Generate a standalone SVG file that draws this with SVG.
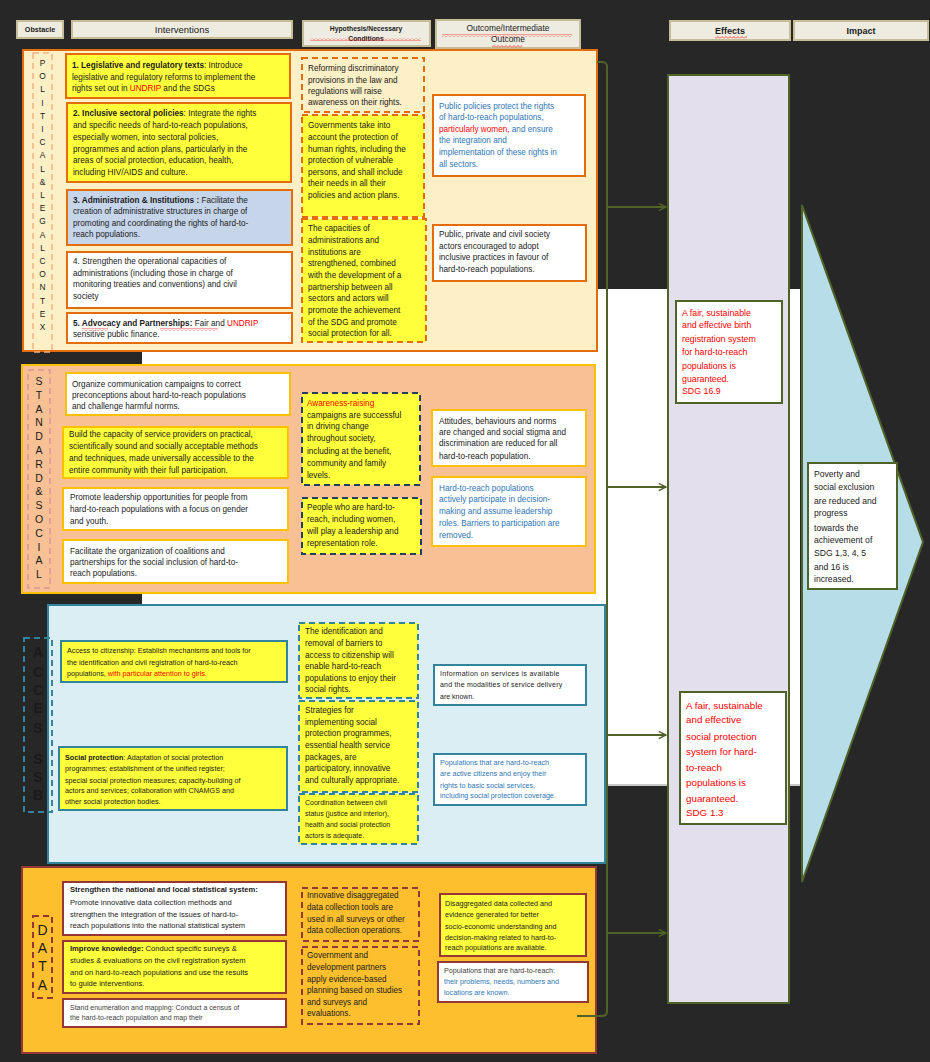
<svg xmlns="http://www.w3.org/2000/svg" width="930" height="1062" viewBox="0 0 930 1062">
<defs>
<style>
text{font-family:"Liberation Sans",Arial,sans-serif;fill:#1a1a1a}
.f8{font-size:8.2px}
.f79{font-size:7.8px}
.f77{font-size:7.6px}
.f73{font-size:7.2px}
.f7{font-size:7px}
.b{font-weight:bold}
.r{fill:#ff0000}
.bl{fill:#2e75b6}
.gr{fill:#404040}
.hd{fill:#eeece1;stroke:#c4bd97;stroke-width:2}
.ht{font-size:9px;text-anchor:middle}
.po{stroke:#e46c0a;stroke-width:2}
.go{stroke:#ffc000;stroke-width:2}
.te{stroke:#31849b;stroke-width:2}
.dr{stroke:#953735;stroke-width:2}
.yl{fill:#ffff3b}
.wh{fill:#ffffff}
.lb{fill:#c6d5ea}
.nf{fill:none}
.ds{stroke-dasharray:6 4}
.gn{stroke:#4f6228;stroke-width:2}
.conn{fill:none;stroke:#4f6228;stroke-width:2}
.sq{fill:url(#sq)}
.vl{text-anchor:middle}
</style>
<marker id="ah" viewBox="0 0 10 10" refX="9" refY="5" markerWidth="9" markerHeight="9" orient="auto" markerUnits="userSpaceOnUse">
<path d="M1,1 L9,5 L1,9" fill="none" stroke="#4f6228" stroke-width="1.6"/>
</marker>
<pattern id="sq" width="4" height="3" patternUnits="userSpaceOnUse"><path d="M0,2.5 L2,0.5 L4,2.5" fill="none" stroke="#ff2020" stroke-width="0.8"/></pattern>
</defs>

<rect x="0" y="0" width="930" height="1062" fill="#272727"/>
<rect id="whiteband" x="142" y="289" width="658" height="495" fill="#ffffff"/>
<line x1="142" y1="785" x2="800" y2="785" stroke="#c8c8c8" stroke-width="2"/>

<!-- Headers -->
<g id="hdr-obstacle"><rect class="hd" x="17" y="21" width="46" height="17"/><text class="ht b" x="40" y="32" style="font-size:7.2px">Obstacle</text></g>
<g id="hdr-interventions"><rect class="hd" x="72" y="21" width="220" height="17"/><text class="ht" x="182" y="33" style="font-size:9.5px">Interventions</text></g>
<g id="hdr-hypothesis"><rect class="hd" x="303" y="21" width="127" height="25"/><text class="ht b" x="366" y="31" style="font-size:6.8px">Hypothesis/Necessary</text><text class="ht b" x="366" y="41" style="font-size:6.8px">Conditions</text><rect class="sq" x="310" y="38" width="111" height="3"/></g>
<g id="hdr-outcome"><rect class="hd" x="436" y="20" width="144" height="28"/><text class="ht" x="508" y="30.5" style="font-size:8.4px">Outcome/Intermediate</text><text class="ht" x="508" y="42" style="font-size:8.4px">Outcome</text><rect class="sq" x="442" y="34" width="130" height="3"/><rect class="sq" x="492" y="45" width="30" height="3"/></g>
<g id="hdr-effects"><rect class="hd" x="670" y="21" width="120" height="19"/><text class="ht b" x="730" y="33.5">Effects</text><rect class="sq" x="715" y="36" width="32" height="3"/></g>
<g id="hdr-impact"><rect class="hd" x="794" y="21" width="134" height="19"/><text class="ht b" x="861" y="33.5">Impact</text></g>

<!-- POLITICAL & LEGAL CONTEXT -->
<g id="sec-political">
<rect x="23" y="50" width="574" height="301" fill="#fdf0c6" class="po"/>
<rect x="33" y="53" width="19" height="299" fill="none" stroke="#f4b183" stroke-width="1.5" class="ds"/>
<g class="vl" style="font-size:8.4px;fill:#d9732e">
<text x="42.5" y="66" fill="#d9732e">P</text><text x="42.5" y="79.2" fill="#d9732e">O</text><text x="42.5" y="92.4" fill="#d9732e">L</text><text x="42.5" y="105.6" fill="#d9732e">I</text><text x="42.5" y="118.8" fill="#d9732e">T</text><text x="42.5" y="132" fill="#d9732e">I</text><text x="42.5" y="145.2" fill="#d9732e">C</text><text x="42.5" y="158.4" fill="#d9732e">A</text><text x="42.5" y="171.6" fill="#d9732e">L</text><text x="42.5" y="184.8" fill="#d9732e">&amp;</text><text x="42.5" y="198" fill="#d9732e">L</text><text x="42.5" y="211.2" fill="#d9732e">E</text><text x="42.5" y="224.4" fill="#d9732e">G</text><text x="42.5" y="237.6" fill="#d9732e">A</text><text x="42.5" y="250.8" fill="#d9732e">L</text><text x="42.5" y="264" fill="#d9732e">C</text><text x="42.5" y="277.2" fill="#d9732e">O</text><text x="42.5" y="290.4" fill="#d9732e">N</text><text x="42.5" y="303.6" fill="#d9732e">T</text><text x="42.5" y="316.8" fill="#d9732e">E</text><text x="42.5" y="330" fill="#d9732e">X</text>
</g>
</g>
<g id="pi1"><rect class="yl po" x="66" y="54" width="224" height="44"/>
<text class="f8" x="72" y="68"><tspan class="b">1. Legislative and regulatory texts</tspan>: Introduce</text>
<text class="f8" x="72" y="79.5">legislative and regulatory reforms to implement the</text>
<text class="f8" x="72" y="91">rights set out in <tspan class="r">UNDRIP</tspan> and the SDGs</text></g>
<g id="pi2"><rect class="yl po" x="67" y="103" width="224" height="79"/>
<text class="f8" x="73" y="116"><tspan class="b">2. Inclusive sectoral policies</tspan>: Integrate the rights</text>
<text class="f8" x="73" y="128">and specific needs of hard-to-reach populations,</text>
<text class="f8" x="73" y="140">especially women, into sectoral policies,</text>
<text class="f8" x="73" y="151.5">programmes and action plans, particularly in the</text>
<text class="f8" x="73" y="163">areas of social protection, education, health,</text>
<text class="f8" x="73" y="175">including HIV/AIDS and culture.</text></g>
<g id="pi3"><rect class="lb po" x="67" y="190" width="225" height="55"/>
<text class="f8" x="73" y="202.5"><tspan class="b">3. Administration &amp; Institutions :</tspan> Facilitate the</text>
<text class="f8" x="73" y="214">creation of administrative structures in charge of</text>
<text class="f8" x="73" y="225.5">promoting and coordinating the rights of hard-to-</text>
<text class="f8" x="73" y="237">reach populations.</text></g>
<g id="pi4"><rect class="wh po" x="67" y="252" width="225" height="56"/>
<text class="f8" x="73" y="264">4. Strengthen the operational capacities of</text>
<text class="f8" x="73" y="276">administrations (including those in charge of</text>
<text class="f8" x="73" y="287">monitoring treaties and conventions) and civil</text>
<text class="f8" x="73" y="299">society</text></g>
<g id="pi5"><rect class="wh po" x="67" y="313" width="225" height="30"/>
<text class="f8" x="73" y="326"><tspan class="b">5. Advocacy and Partnerships:</tspan> Fair and <tspan class="r">UNDRIP</tspan></text>
<text class="f8" x="73" y="337">sensitive public finance.</text>
<rect class="sq" x="82" y="328" width="26" height="3"/><rect class="sq" x="160" y="328" width="58" height="3"/></g>
<g id="ph1"><rect class="nf po ds" x="302" y="58" width="122" height="54"/>
<text class="f8" x="308" y="71">Reforming discriminatory</text>
<text class="f8" x="308" y="82.5">provisions in the law and</text>
<text class="f8" x="308" y="94">regulations will raise</text>
<text class="f8" x="308" y="105">awareness on their rights.</text></g>
<g id="ph2"><rect class="yl po ds" x="302" y="115" width="122" height="102"/>
<text class="f8" x="308" y="128">Governments take into</text>
<text class="f8" x="308" y="140">account the protection of</text>
<text class="f8" x="308" y="151.5">human rights, including the</text>
<text class="f8" x="308" y="163">protection of vulnerable</text>
<text class="f8" x="308" y="174.5">persons, and shall include</text>
<text class="f8" x="308" y="186">their needs in all their</text>
<text class="f8" x="308" y="197.5">policies and action plans.</text></g>
<g id="ph3"><rect class="yl po ds" x="302" y="219" width="124" height="123"/>
<text class="f8" x="308" y="231">The capacities of</text>
<text class="f8" x="308" y="243">administrations and</text>
<text class="f8" x="308" y="255">institutions are</text>
<text class="f8" x="308" y="266">strengthened, combined</text>
<text class="f8" x="308" y="278">with the development of a</text>
<text class="f8" x="308" y="289.5">partnership between all</text>
<text class="f8" x="308" y="301">sectors and actors will</text>
<text class="f8" x="308" y="313">promote the achievement</text>
<text class="f8" x="308" y="324.5">of the SDG and promote</text>
<text class="f8" x="308" y="336">social protection for all.</text></g>
<g id="po1"><rect class="wh po" x="433" y="95" width="152" height="81"/>
<text class="f8 bl" x="439" y="109">Public policies protect the rights</text>
<text class="f8 bl" x="439" y="120">of hard-to-reach populations,</text>
<text class="f8" x="439" y="131.5"><tspan class="r">particularly women,</tspan><tspan class="bl"> and ensure</tspan></text>
<text class="f8 bl" x="439" y="143">the integration and</text>
<text class="f8 bl" x="439" y="155">implementation of these rights in</text>
<text class="f8 bl" x="439" y="167">all sectors.</text></g>
<g id="po2"><rect class="wh po" x="433" y="225" width="153" height="56"/>
<text class="f8" x="439" y="237">Public, private and civil society</text>
<text class="f8" x="439" y="248.5">actors encouraged to adopt</text>
<text class="f8" x="439" y="260">inclusive practices in favour of</text>
<text class="f8" x="439" y="272">hard-to-reach populations.</text></g>

<!-- STANDARD & SOCIAL -->
<g id="sec-standard">
<rect x="22" y="365" width="573" height="228" fill="#f8c195" class="go"/>
<rect x="28" y="370" width="22" height="218" fill="none" stroke="#d99694" stroke-width="1.5" class="ds"/>
<g class="vl" style="font-size:10.5px">
<text x="39" y="385" fill="#c55a11">S</text><text x="39" y="398.8" fill="#c55a11">T</text><text x="39" y="412.6" fill="#c55a11">A</text><text x="39" y="426.4" fill="#c55a11">N</text><text x="39" y="440.2" fill="#c55a11">D</text><text x="39" y="454" fill="#c55a11">A</text><text x="39" y="467.8" fill="#c55a11">R</text><text x="39" y="481.6" fill="#c55a11">D</text><text x="39" y="495.4" fill="#c55a11">&amp;</text><text x="39" y="509.2" fill="#c55a11">S</text><text x="39" y="523" fill="#c55a11">O</text><text x="39" y="536.8" fill="#c55a11">C</text><text x="39" y="550.6" fill="#c55a11">I</text><text x="39" y="564.4" fill="#c55a11">A</text><text x="39" y="578.2" fill="#c55a11">L</text>
</g>
</g>
<g id="si1"><rect class="wh go" x="66" y="373" width="224" height="42"/>
<text class="f8" x="72" y="387">Organize communication campaigns to correct</text>
<text class="f8" x="72" y="398">preconceptions about hard-to-reach populations</text>
<text class="f8" x="72" y="409">and challenge harmful norms.</text></g>
<g id="si2"><rect class="yl go" x="63" y="427" width="225" height="51"/>
<text class="f8" x="69" y="437">Build the capacity of service providers on practical,</text>
<text class="f8" x="69" y="449">scientifically sound and socially acceptable methods</text>
<text class="f8" x="69" y="461">and techniques, made universally accessible to the</text>
<text class="f8" x="69" y="473">entire community with their full participation.</text></g>
<g id="si3"><rect class="wh go" x="63" y="488" width="225" height="42"/>
<text class="f8" x="70" y="500">Promote leadership opportunities for people from</text>
<text class="f8" x="70" y="512">hard-to-reach populations with a focus on gender</text>
<text class="f8" x="70" y="524">and youth.</text></g>
<g id="si4"><rect class="wh go" x="63" y="540" width="225" height="43"/>
<text class="f8" x="70" y="554">Facilitate the organization of coalitions and</text>
<text class="f8" x="70" y="565">partnerships for the social inclusion of hard-to-</text>
<text class="f8" x="70" y="576">reach populations.</text></g>
<g id="sh1"><rect class="yl ds" x="302" y="393" width="118" height="92" stroke="#243f60" stroke-width="2"/>
<text class="f8 r" x="307" y="406">Awareness-raising</text>
<text class="f8" x="307" y="417.5">campaigns are successful</text>
<text class="f8" x="307" y="429">in driving change</text>
<text class="f8" x="307" y="441">throughout society,</text>
<text class="f8" x="307" y="453.5">including at the benefit,</text>
<text class="f8" x="307" y="466">community and family</text>
<text class="f8" x="307" y="478">levels.</text></g>
<g id="sh2"><rect class="yl ds" x="302" y="498" width="119" height="56" stroke="#243f60" stroke-width="2"/>
<text class="f8" x="307" y="510">People who are hard-to-</text>
<text class="f8" x="307" y="522">reach, including women,</text>
<text class="f8" x="307" y="534">will play a leadership and</text>
<text class="f8" x="307" y="546">representation role.</text></g>
<g id="so1"><rect class="wh go" x="432" y="410" width="154" height="56"/>
<text class="f8" x="439" y="424">Attitudes, behaviours and norms</text>
<text class="f8" x="439" y="434.5">are changed and social stigma and</text>
<text class="f8" x="439" y="446">discrimination are reduced for all</text>
<text class="f8" x="439" y="458.5">hard-to-reach population.</text></g>
<g id="so2"><rect class="wh go" x="432" y="477" width="154" height="69"/>
<text class="f8 bl" x="439" y="491">Hard-to-reach populations</text>
<text class="f8 bl" x="439" y="502">actively participate in decision-</text>
<text class="f8 bl" x="439" y="514">making and assume leadership</text>
<text class="f8 bl" x="439" y="526">roles. Barriers to participation are</text>
<text class="f8 bl" x="439" y="538">removed.</text></g>

<!-- ACCESS -->
<g id="sec-access">
<rect x="48" y="605" width="557" height="258" fill="#dbeef4" class="te"/>
<rect x="24" y="638" width="28" height="174" fill="none" stroke="#31849b" stroke-width="2" class="ds"/>
<g class="vl b" style="font-size:14px">
<text x="38" y="657">A</text><text x="38" y="677">C</text><text x="38" y="695">C</text><text x="38" y="713">E</text><text x="38" y="733">S</text><text x="38" y="764">S</text><text x="38" y="782">S</text><text x="38" y="800">B</text>
</g>
</g>
<g id="ai1"><rect class="yl te" x="61" y="641" width="226" height="41"/>
<text class="f73" x="67" y="653">Access to citizenship: Establish mechanisms and tools for</text>
<text class="f73" x="67" y="664.5">the identification and civil registration of hard-to-reach</text>
<text class="f73" x="67" y="676">populations, <tspan class="r">with particular attention to girls.</tspan></text></g>
<g id="ai2"><rect class="yl te" x="59" y="747" width="228" height="63"/>
<text class="f73" x="65" y="760"><tspan class="b">Social protection</tspan>: Adaptation of social protection</text>
<text class="f73" x="65" y="770.5">programmes; establishment of the unified register;</text>
<text class="f73" x="65" y="782.5">special social protection measures; capacity-building of</text>
<text class="f73" x="65" y="793">actors and services; collaboration with CNAMGS and</text>
<text class="f73" x="65" y="804">other social protection bodies.</text></g>
<g id="ah1"><rect class="yl te ds" x="299" y="623" width="119" height="75"/>
<text class="f8" x="305" y="634">The identification and</text>
<text class="f8" x="305" y="646">removal of barriers to</text>
<text class="f8" x="305" y="658">access to citizenship will</text>
<text class="f8" x="305" y="669">enable hard-to-reach</text>
<text class="f8" x="305" y="681">populations to enjoy their</text>
<text class="f8" x="305" y="692">social rights.</text></g>
<g id="ah2"><rect class="yl te ds" x="299" y="701" width="119" height="91"/>
<text class="f8" x="305" y="713">Strategies for</text>
<text class="f8" x="305" y="725">implementing social</text>
<text class="f8" x="305" y="736">protection programmes,</text>
<text class="f8" x="305" y="748">essential health service</text>
<text class="f8" x="305" y="760">packages, are</text>
<text class="f8" x="305" y="771">participatory, innovative</text>
<text class="f8" x="305" y="783">and culturally appropriate.</text></g>
<g id="ah3"><rect class="yl te ds" x="299" y="794" width="119" height="50"/>
<text class="f7" x="305" y="805">Coordination between civil</text>
<text class="f7" x="305" y="815.5">status (justice and interior),</text>
<text class="f7" x="305" y="827">health and social protection</text>
<text class="f7" x="305" y="838">actors is adequate.</text></g>
<g id="ao1"><rect class="wh te" x="434" y="665" width="152" height="40"/>
<text class="f7" x="440" y="676" style="letter-spacing:0.3px">Information on services is available</text>
<text class="f7" x="440" y="686.5" style="letter-spacing:0.2px">and the modalities of service delivery</text>
<text class="f7" x="440" y="699">are known.</text></g>
<g id="ao2"><rect class="wh te" x="434" y="754" width="152" height="51"/>
<text class="f73 bl" x="440" y="765">Populations that are hard-to-reach</text>
<text class="f73 bl" x="440" y="776">are active citizens and enjoy their</text>
<text class="f73 bl" x="440" y="787.5">rights to basic social services,</text>
<text class="f73 bl" x="440" y="798">including social protection coverage.</text></g>

<!-- DATA -->
<g id="sec-data">
<rect x="22" y="867" width="574" height="186" fill="#fdbf2e" class="dr"/>
<rect x="33" y="916" width="19" height="82" fill="none" stroke="#953735" stroke-width="2" class="ds"/>
<g class="vl" style="font-size:14px">
<text x="42.5" y="935" fill="#953735">D</text><text x="42.5" y="953" fill="#953735">A</text><text x="42.5" y="971" fill="#953735">T</text><text x="42.5" y="990" fill="#953735">A</text>
</g>
</g>
<g id="di1"><rect class="wh dr" x="63" y="882" width="223" height="53"/>
<text class="f77 b" x="70" y="892">Strengthen the national and local statistical system:</text>
<text class="f77" x="70" y="905">Promote innovative data collection methods and</text>
<text class="f77" x="70" y="916.5">strengthen the integration of the issues of hard-to-</text>
<text class="f77" x="70" y="927.5">reach populations into the national statistical system</text></g>
<g id="di2"><rect class="yl dr" x="63" y="941" width="223" height="52"/>
<text class="f77" x="70" y="951"><tspan class="b">Improve knowledge:</tspan> Conduct specific surveys &amp;</text>
<text class="f77" x="70" y="963">studies &amp; evaluations on the civil registration system</text>
<text class="f77" x="70" y="975">and on hard-to-reach populations and use the results</text>
<text class="f77" x="70" y="986">to guide interventions.</text></g>
<g id="di3"><rect class="wh dr" x="63" y="999" width="223" height="28"/>
<text class="f7 gr" x="70" y="1010">Stand enumeration and mapping: Conduct a census of</text>
<text class="f7 gr" x="70" y="1020">the hard-to-reach population and map their</text></g>
<g id="dh1"><rect class="nf dr ds" x="302" y="888" width="117" height="53"/>
<text class="f8" x="307" y="898">Innovative disaggregated</text>
<text class="f8" x="307" y="910">data collection tools are</text>
<text class="f8" x="307" y="922">used in all surveys or other</text>
<text class="f8" x="307" y="933">data collection operations.</text></g>
<g id="dh2"><rect class="nf dr ds" x="302" y="947" width="117" height="77"/>
<text class="f8" x="307" y="958">Government and</text>
<text class="f8" x="307" y="970">development partners</text>
<text class="f8" x="307" y="982">apply evidence-based</text>
<text class="f8" x="307" y="993">planning based on studies</text>
<text class="f8" x="307" y="1005">and surveys and</text>
<text class="f8" x="307" y="1016">evaluations.</text></g>
<g id="do1"><rect class="yl dr" x="440" y="894" width="146" height="62"/>
<text class="f73" x="445" y="906">Disaggregated data collected and</text>
<text class="f73" x="445" y="916.5">evidence generated for better</text>
<text class="f73" x="445" y="929">socio-economic understanding and</text>
<text class="f73" x="445" y="939.5">decision-making related to hard-to-</text>
<text class="f73" x="445" y="950">reach populations are available.</text></g>
<g id="do2"><rect class="wh dr" x="438" y="962" width="150" height="40"/>
<text class="f73 gr" x="444" y="973">Populations that are hard-to-reach:</text>
<text class="f73 bl" x="444" y="984">their problems, needs, numbers and</text>
<text class="f73 bl" x="444" y="995">locations are known.</text></g>

<!-- EFFECTS column and IMPACT -->
<g id="effects-column"><rect x="668" y="75" width="121" height="928" fill="#e4dfec" class="gn"/></g>
<g id="impact-arrow"><polygon points="802,205 923,542 802,882" fill="#b7dee8" class="gn"/></g>

<g id="connectors">
<path class="conn" d="M597,62 H602 Q607,62 607,67 V1011 Q607,1016 602,1016 H577"/>
<line class="conn" x1="607" y1="207" x2="666" y2="207" marker-end="url(#ah)"/>
<line class="conn" x1="607" y1="487" x2="666" y2="487" marker-end="url(#ah)"/>
<line class="conn" x1="607" y1="735" x2="666" y2="735" marker-end="url(#ah)"/>
<line class="conn" x1="607" y1="933" x2="666" y2="933" marker-end="url(#ah)"/>
</g>

<g id="eff1"><rect class="wh gn" x="676" y="301" width="106" height="102"/>
<text class="r" style="font-size:8.8px" x="682" y="316">A fair, sustainable</text>
<text class="r" style="font-size:8.8px" x="682" y="328">and effective birth</text>
<text class="r" style="font-size:8.8px" x="682" y="342">registration system</text>
<text class="r" style="font-size:8.8px" x="682" y="355">for hard-to-reach</text>
<text class="r" style="font-size:8.8px" x="682" y="369">populations is</text>
<text class="r" style="font-size:8.8px" x="682" y="382">guaranteed.</text>
<text class="r" style="font-size:8.8px" x="682" y="394">SDG 16.9</text></g>
<g id="eff2"><rect class="wh gn" x="680" y="692" width="106" height="132"/>
<text class="r" style="font-size:9.8px" x="686" y="709">A fair, sustainable</text>
<text class="r" style="font-size:9.8px" x="686" y="723">and effective</text>
<text class="r" style="font-size:9.8px" x="686" y="740">social protection</text>
<text class="r" style="font-size:9.8px" x="686" y="755">system for hard-</text>
<text class="r" style="font-size:9.8px" x="686" y="771">to-reach</text>
<text class="r" style="font-size:9.8px" x="686" y="786">populations is</text>
<text class="r" style="font-size:9.8px" x="686" y="802">guaranteed.</text>
<text class="r" style="font-size:9.8px" x="686" y="816">SDG 1.3</text></g>
<g id="impact"><rect class="wh gn" x="808" y="463" width="89" height="126"/>
<text style="font-size:8.6px" x="814" y="477">Poverty and</text>
<text style="font-size:8.6px" x="814" y="490">social exclusion</text>
<text style="font-size:8.6px" x="814" y="504">are reduced and</text>
<text style="font-size:8.6px" x="814" y="516">progress</text>
<text style="font-size:8.6px" x="814" y="531">towards the</text>
<text style="font-size:8.6px" x="814" y="543">achievement of</text>
<text style="font-size:8.6px" x="814" y="556">SDG 1,3, 4, 5</text>
<text style="font-size:8.6px" x="814" y="570">and 16 is</text>
<text style="font-size:8.6px" x="814" y="582">increased.</text></g>
</svg>
